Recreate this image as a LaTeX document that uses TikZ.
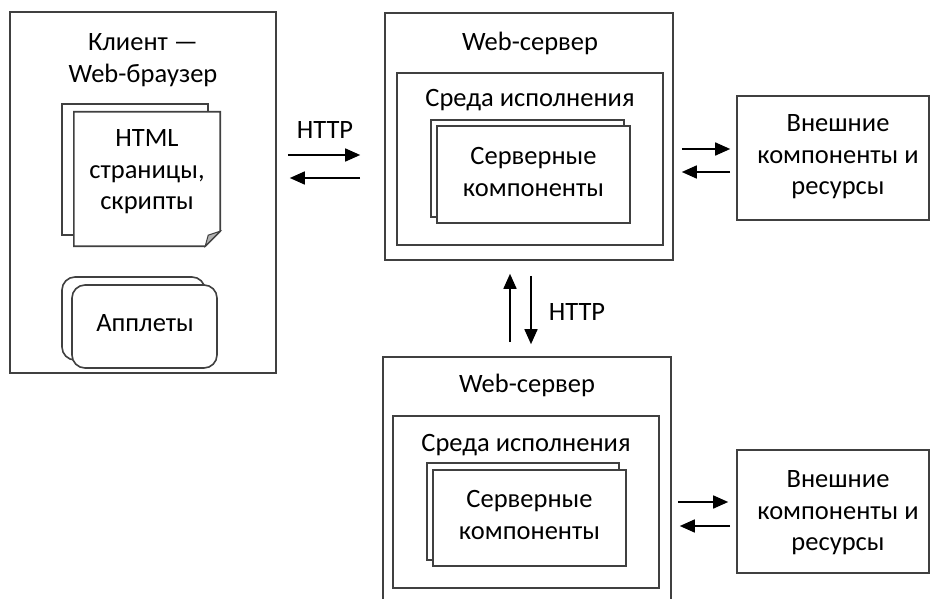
\documentclass[tikz,border=0pt]{standalone}
\usepackage{fontspec}
\setmainfont{Carlito}
\usetikzlibrary{arrows.meta,positioning}

\begin{document}
\begin{tikzpicture}[x=1pt,y=-1pt,
  frame/.style={draw=black!75,line width=1.6pt,fill=white,inner sep=0pt},
  txt/.style={font=\fontsize{26.5}{31.5}\selectfont,align=center,inner sep=0pt},
  flow/.style={-{Triangle[length=15pt,width=13pt]},line width=1.6pt}]
\clip (0,0) rectangle (931,599);
% client side
\node[frame,minimum width=266pt,minimum height=361pt] (client) at (143,192.5) {};
\node[txt] (client_t) at (143,60) {Клиент —\\Web-браузер};
\node[frame,minimum width=146pt,minimum height=131pt] (page_b) at (135,169.5) {};
\node[minimum width=146pt,minimum height=134pt,inner sep=0pt] (page_f) at (147,179) {};
\draw[frame] (page_f.north west) -- (page_f.north east) -- ([yshift=15pt]page_f.south east)
  -- ([xshift=-15pt]page_f.south east) -- (page_f.south west) -- cycle;
\fill[gray!60,draw=black!75,line width=1pt] ([yshift=15pt]page_f.south east) -- ([xshift=-15pt]page_f.south east)
  -- ([xshift=-12pt,yshift=11pt]page_f.south east) -- cycle;
\node[txt] (page_t) at (147,172) {HTML\\страницы,\\скрипты};
\node[frame,rounded corners=13pt,minimum width=143pt,minimum height=83pt] (applet_b) at (133.5,318.5) {};
\node[frame,rounded corners=13pt,minimum width=145pt,minimum height=83pt] (applet_f) at (144.5,326.5) {};
\node[txt] (applet_t) at (145,323) {Апплеты};
% first server
\node[frame,minimum width=288pt,minimum height=247pt] (srv_a) at (529,136.5) {};
\node[txt] (srv_a_t) at (530,43) {Web-сервер};
\node[frame,minimum width=266pt,minimum height=172pt] (env_a) at (530,159) {};
\node[txt] (env_a_t) at (530,100) {Среда исполнения};
\node[frame,minimum width=193pt,minimum height=97pt] (comp_ab) at (527.5,168.5) {};
\node[frame,minimum width=193pt,minimum height=97pt] (comp_a) at (533.5,174.5) {};
\node[txt] (comp_a_t) at (533.5,172) {Серверные\\компоненты};
\node[frame,minimum width=192pt,minimum height=124pt] (ext_a) at (833,158) {};
\node[txt] (ext_a_t) at (838,157) {Внешние\\компоненты и\\ресурсы};
% second server
\node[frame,minimum width=288pt,minimum height=255pt] (srv_b) at (527,484.5) {};
\node[txt] (srv_b_t) at (527,385) {Web-сервер};
\node[frame,minimum width=266pt,minimum height=172pt] (env_b) at (526,502) {};
\node[txt] (env_b_t) at (526,445) {Среда исполнения};
\node[frame,minimum width=192pt,minimum height=97pt] (comp_bb) at (523,511.5) {};
\node[frame,minimum width=193pt,minimum height=96pt] (comp_b) at (529.5,518) {};
\node[txt] (comp_b_t) at (529.5,515) {Серверные\\компоненты};
\node[frame,minimum width=192pt,minimum height=123pt] (ext_b) at (833,511.5) {};
\node[txt] (ext_b_t) at (838,513) {Внешние\\компоненты и\\ресурсы};
% arrows
\draw[flow,shorten <=11pt,shorten >=24pt] (client.east |- 0,155) -- (srv_a.west |- 0,155);
\draw[flow,shorten <=24pt,shorten >=13pt] (srv_a.west |- 0,178) -- (client.east |- 0,178);
\node[txt] (http_a) at (325,130) {HTTP};
\draw[flow,shorten <=8pt,shorten >=6pt] (srv_a.east |- 0,149) -- (ext_a.west |- 0,149);
\draw[flow,shorten <=6pt,shorten >=8pt] (ext_a.west |- 0,172) -- (srv_a.east |- 0,172);
\draw[flow,shorten <=6pt,shorten >=8pt] (srv_b.east |- 0,502) -- (ext_b.west |- 0,502);
\draw[flow,shorten <=6pt,shorten >=8pt] (ext_b.west |- 0,526) -- (srv_b.east |- 0,526);
\draw[flow,shorten <=14pt,shorten >=13pt] (srv_b.north -| 510,0) -- (srv_a.south -| 510,0);
\draw[flow,shorten <=15pt,shorten >=12pt] (srv_a.south -| 531,0) -- (srv_b.north -| 531,0);
\node[txt] (http_b) at (577,312) {HTTP};
\end{tikzpicture}
\end{document}
